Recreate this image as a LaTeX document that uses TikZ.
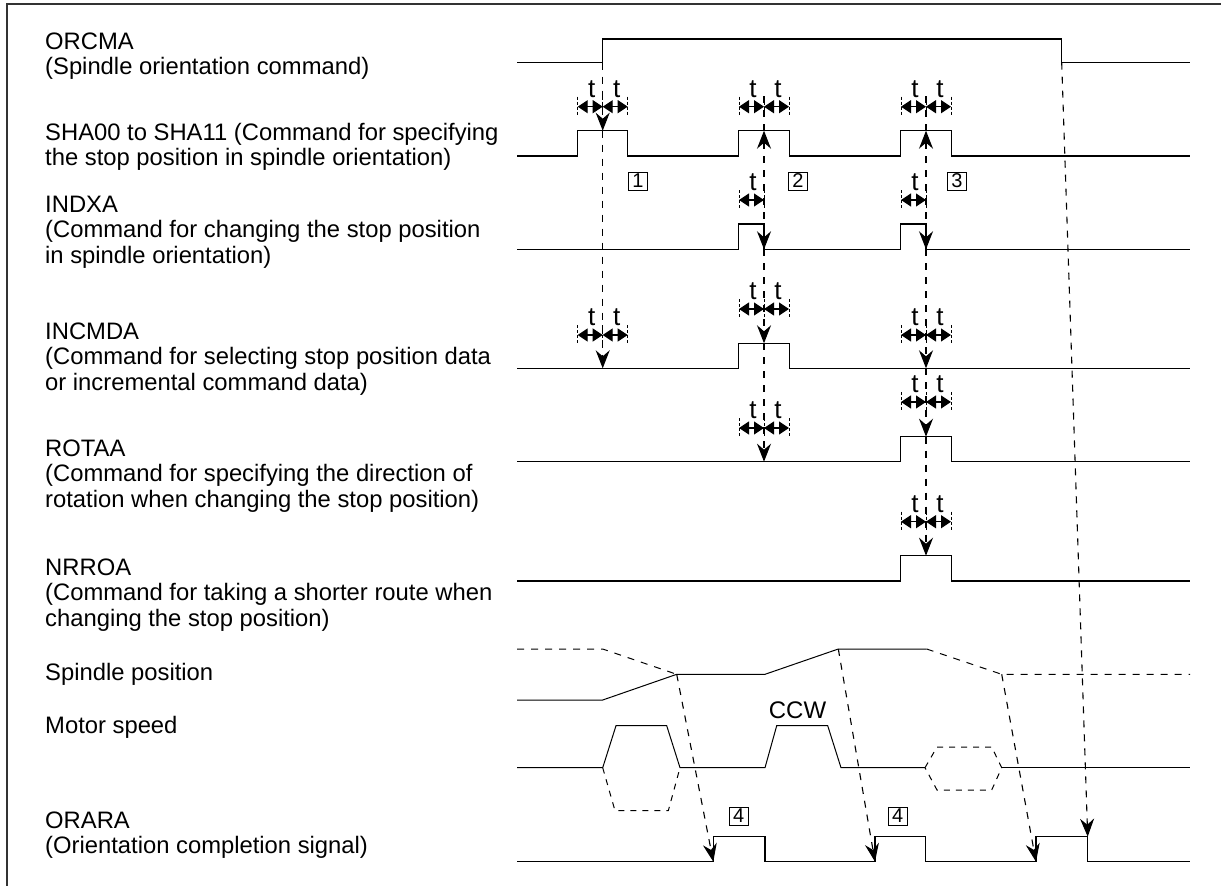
\documentclass[tikz,border=0pt]{standalone}
\usepackage{fontspec}
\setmainfont{Liberation Sans}
\usetikzlibrary{arrows.meta}
\tikzset{
  sig/.style={line width=1.2pt, line join=miter},
  dl/.style={line width=1.1pt, dash pattern=on 7pt off 7pt},
  ah/.style={-{Stealth[length=18pt,width=14pt,inset=6pt]}},
  ahb/.style={{Stealth[length=18pt,width=14pt,inset=6pt]}-{Stealth[length=18pt,width=14pt,inset=6pt]}},
  tarr/.style={line width=1.2pt, {Triangle[length=10pt,width=13pt]}-{Triangle[length=10pt,width=13pt]}},
  tick/.style={line width=0.9pt, dash pattern=on 3pt off 2pt},
  tlab/.style={inner sep=0pt, font=\fontsize{26}{26}\selectfont},
  lab/.style={anchor=base west, align=left, inner sep=0pt, font=\fontsize{23.8}{25.5}\selectfont},
  numbox/.style={draw, line width=0.8pt, inner sep=0pt, minimum width=19pt, minimum height=18pt, font=\fontsize{20}{20}\selectfont},
}
\newcommand\tleft[3]{%
  \draw[tick] (#2-25,#3-10) -- (#2-25,#3+8);
  \draw[tick] (#2,#3-10) -- (#2,#3+8);
  \draw[tarr] (#2-25,#3) -- (#2,#3);
  \node[tlab] (#1l) at (#2-11,#3-18) {t};
}
\newcommand\tboth[3]{%
  \tleft{#1}{#2}{#3}
  \draw[tick] (#2+25,#3-10) -- (#2+25,#3+8);
  \draw[tarr] (#2,#3) -- (#2+25,#3);
  \node[tlab] (#1r) at (#2+14,#3-18) {t};
}
\begin{document}
\begin{tikzpicture}[x=1pt,y=-1pt]
\useasboundingbox (0,0) rectangle (1221,886);
\fill[white] (0,0) rectangle (1221,886);
\draw[line width=1.5pt, black!80] (7,886) -- (7,4) -- (1221,4);

% labels (base = last line)
\node[lab] (lorcma) at (45,74.5) {ORCMA\\(Spindle orientation command)};
\node[lab] (lsha) at (45,165.5) {SHA00 to SHA11 (Command for specifying\\the stop position in spindle orientation)};
\node[lab] (lindxa) at (45,263) {INDXA\\(Command for changing the stop position\\in spindle orientation)};
\node[lab] (lincmda) at (45,390) {INCMDA\\(Command for selecting stop position data\\or incremental command data)};
\node[lab] (lrotaa) at (45,507) {ROTAA\\(Command for specifying the direction of\\rotation when changing the stop position)};
\node[lab] (lnrroa) at (45,626) {NRROA\\(Command for taking a shorter route when\\changing the stop position)};
\node[lab] (lsp) at (45,680) {Spindle position};
\node[lab] (lms) at (45,733) {Motor speed};
\node[lab] (lorara) at (45,853.5) {ORARA\\(Orientation completion signal)};

% key coordinates
\coordinate (o1) at (602.7,62.7);
\coordinate (o2) at (1061.7,62.7);
\coordinate (s1) at (602.7,130.7);
\coordinate (s2) at (764,130.7);
\coordinate (s3) at (926,130.7);
\coordinate (i2) at (764,249.3);
\coordinate (i3) at (926,249.3);
\coordinate (c1) at (602.7,368.3);
\coordinate (c2) at (764,343.3);
\coordinate (c3) at (926,368.3);
\coordinate (r2) at (764,461.7);
\coordinate (r3) at (926,436.7);
\coordinate (n3) at (926,555.7);
\coordinate (p1) at (676.7,674.3);
\coordinate (p2) at (838.3,649);
\coordinate (p3) at (1001.7,674.3);
\coordinate (a1) at (713.3,861.7);
\coordinate (a2) at (875,861.7);
\coordinate (a3) at (1036,861.7);
\coordinate (a4) at (1087.7,836.7);

% signals
\draw[sig] (517,62.7) -- (602.7,62.7) -- (602.7,39) -- (1061.7,39) -- (1061.7,62.7) -- (1190,62.7);
\draw[sig] (517,156) -- (577.7,156) -- (577.7,130.7) -- (627.7,130.7) -- (627.7,156) -- (738.7,156) -- (738.7,130.7) -- (789.3,130.7) -- (789.3,156) -- (900.7,156) -- (900.7,130.7) -- (951.7,130.7) -- (951.7,156) -- (1190,156);
\draw[sig] (517,249.3) -- (738.7,249.3) -- (738.7,224) -- (764,224) -- (764,249.3) -- (900.7,249.3) -- (900.7,224) -- (926,224) -- (926,249.3) -- (1190,249.3);
\draw[sig] (517,368.3) -- (738.7,368.3) -- (738.7,343.3) -- (789.3,343.3) -- (789.3,368.3) -- (1190,368.3);
\draw[sig] (517,461.7) -- (900.7,461.7) -- (900.7,436.7) -- (951.7,436.7) -- (951.7,461.7) -- (1190,461.7);
\draw[sig] (517,581) -- (900.7,581) -- (900.7,555.7) -- (951.7,555.7) -- (951.7,581) -- (1190,581);
% spindle position
\draw[sig, line width=1pt] (517,700) -- (602.7,700) -- (p1) -- (765,674.3) -- (p2) -- (926.7,649);
\draw[dl, line width=1pt] (517,649) -- (602.7,649) -- (p1);
\draw[dl, line width=1pt] (926.7,649) -- (p3) -- (1190,674.3);
% motor speed
\draw[sig, line width=1pt] (517,767.7) -- (602.7,767.7) -- (616,725.7) -- (666.7,725.7) -- (680,767.7) -- (765,767.7) -- (776.7,725.7) -- (827.7,725.7) -- (841,767.7) -- (925,767.7);
\draw[sig, line width=1pt] (1001.7,767.7) -- (1190,767.7);
\draw[dl, line width=1pt, dash pattern=on 6pt off 6pt] (602.7,767.7) -- (615,810.7) -- (668.3,810.7) -- (680,767.7);
\draw[dl, line width=1pt, dash pattern=on 6pt off 6pt] (925,767.7) -- (937,747) -- (991.7,747) -- (1001.7,767.7) -- (991.7,790) -- (937,790) -- cycle;
\node[font=\fontsize{24}{24}\selectfont, inner sep=0pt] (ccw) at (797.5,710) {CCW};
% ORARA
\draw[sig] (517,861.7) -- (713.3,861.7) -- (713.3,836.7) -- (765,836.7) -- (765,861.7) -- (875,861.7) -- (875,836.7) -- (925.7,836.7) -- (925.7,861.7) -- (1036,861.7) -- (1036,836.7) -- (1087.7,836.7) -- (1087.7,861.7) -- (1190,861.7);

% boxed numbers
\node[numbox] (b1) at (638,181) {1};
\node[numbox] (b2) at (798,181) {2};
\node[numbox] (b3) at (957,181) {3};
\node[numbox] (b4) at (738.8,816) {4};
\node[numbox] (b5) at (897.8,816) {4};

% t arrows
\tboth{ts1}{602.7}{106.7}
\tboth{ts2}{764}{106.7}
\tboth{ts3}{926}{106.7}
\tleft{ti2}{764}{200}
\tleft{ti3}{926}{200}
\tboth{tc1}{602.7}{335}
\tboth{tc2}{764}{309}
\tboth{tc3}{926}{335}
\tboth{tr2}{764}{428}
\tboth{tr3}{926}{402}
\tboth{tn3}{926}{521.7}

% dashed timing connectors
\draw[dl, ah] (o1) -- (s1);
\draw[dl, ah] (s1) -- (c1);
\draw[dl] (764,96) -- (s2);
\draw[dl, ahb] (s2) -- (i2);
\draw[dl, ah] (i2) -- (c2);
\draw[dl, ah] (c2) -- (r2);
\draw[dl] (926,96) -- (s3);
\draw[dl, ahb] (s3) -- (i3);
\draw[dl, ah] (i3) -- (c3);
\draw[dl, ah] (c3) -- (r3);
\draw[dl, ah] (r3) -- (n3);
\draw[dl, ah] (p1) -- (a1);
\draw[dl, ah] (p2) -- (a2);
\draw[dl, ah] (p3) -- (a3);
\draw[dl, ah] (o2) -- (a4);
\end{tikzpicture}
\end{document}
